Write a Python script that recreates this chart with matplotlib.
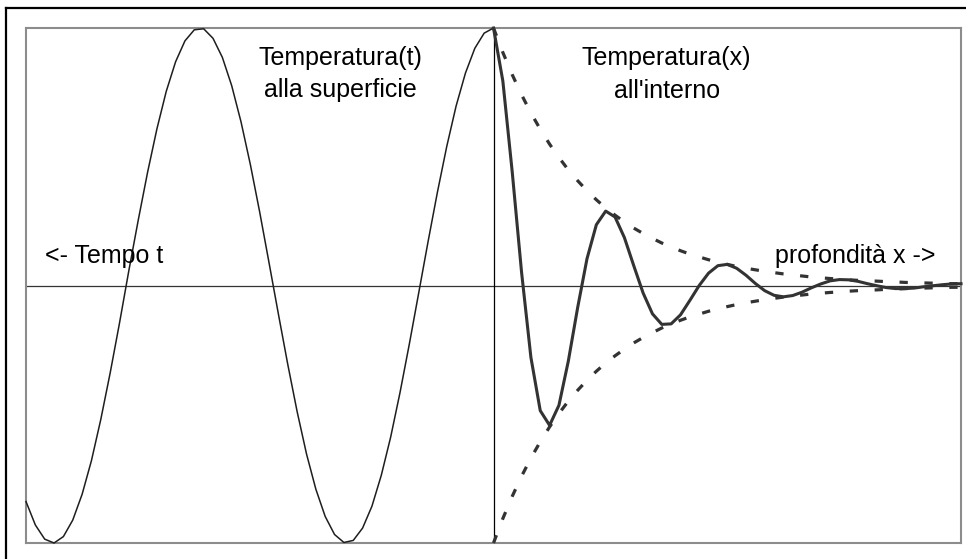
import matplotlib
matplotlib.use("Agg")
import matplotlib.pyplot as plt
from matplotlib.lines import Line2D

plt.rcParams['font.family'] = ['Liberation Sans', 'DejaVu Sans']

# Time axis (left half) and depth axis (right half), step 0.2
time_t = [round(-10 + 0.2 * i, 1) for i in range(51)]
depth_x = [round(0.2 * i, 1) for i in range(51)]

# Surface temperature over time, t = -10 ... 0
surface_temp = [
    -0.839, -0.930, -0.985, -1.000, -0.975, -0.911, -0.811, -0.680, -0.520, -0.340,
    -0.146, 0.058, 0.253, 0.439, 0.608, 0.754, 0.869, 0.950, 0.993, 0.997,
    0.960, 0.886, 0.776, 0.635, 0.469, 0.284, 0.087, -0.112, -0.307, -0.490,
    -0.654, -0.791, -0.897, -0.967, -0.998, -0.990, -0.942, -0.857, -0.737, -0.589,
    -0.416, -0.227, -0.029, 0.170, 0.362, 0.540, 0.697, 0.825, 0.921, 0.980,
    1.000,
]

# Temperature inside the body versus depth, x = 0 ... 10
inner_temp = [
    1.000, 0.794, 0.442, 0.052, -0.279, -0.486, -0.543, -0.465, -0.294, -0.086,
    0.104, 0.236, 0.289, 0.266, 0.186, 0.077, -0.029, -0.110, -0.151, -0.149,
    -0.114, -0.058, 0.000, 0.048, 0.077, 0.082, 0.067, 0.040, 0.008, -0.020,
    -0.038, -0.044, -0.039, -0.026, -0.009, 0.006, 0.018, 0.023, 0.022, 0.016,
    0.007, -0.001, -0.008, -0.012, -0.012, -0.010, -0.005, -0.001, 0.003, 0.006,
    0.007,
]

# Amplitude envelope versus depth
envelope = [
    1.000, 0.905, 0.819, 0.741, 0.670, 0.607, 0.549, 0.497, 0.449, 0.407,
    0.368, 0.333, 0.301, 0.273, 0.247, 0.223, 0.202, 0.183, 0.165, 0.150,
    0.135, 0.122, 0.111, 0.100, 0.091, 0.082, 0.074, 0.067, 0.061, 0.055,
    0.050, 0.045, 0.041, 0.037, 0.033, 0.030, 0.027, 0.025, 0.022, 0.020,
    0.018, 0.017, 0.015, 0.014, 0.012, 0.011, 0.010, 0.009, 0.008, 0.007,
    0.007,
]
envelope_low = [-v for v in envelope]

W, H = 966, 559
fig = plt.figure(figsize=(W / 100, H / 100), dpi=100)
fig.patch.set_facecolor('white')

# outer frame (left and top edges visible)
fig.add_artist(Line2D([6 / W, 6 / W], [1 - 7.5 / H, -0.01], transform=fig.transFigure,
                      color='black', lw=1.6, solid_capstyle='projecting'))
fig.add_artist(Line2D([6 / W, 1.01], [1 - 7.5 / H, 1 - 7.5 / H], transform=fig.transFigure,
                      color='black', lw=1.6, solid_capstyle='projecting'))

left, right, top, bottom = 26, 961, 28, 543
ax = fig.add_axes([left / W, 1 - bottom / H, (right - left) / W, (bottom - top) / H])
ax.set_xlim(-10, 10)
ax.set_ylim(-1, 1)
ax.set_xticks([])
ax.set_yticks([])
for s in ax.spines.values():
    s.set_color('#8c8c8c')
    s.set_linewidth(1.5)

# axes through the origin
ax.axhline(0, color='#333333', lw=0.9, zorder=1)
ax.axvline(0, color='black', lw=0.9, zorder=1)

ax.plot(time_t, surface_temp, color='#1e1e1e', lw=1.1, zorder=3, clip_on=False)
ax.plot(depth_x, inner_temp, color='#333333', lw=2.2, zorder=4, clip_on=False)
for env in (envelope, envelope_low):
    ln, = ax.plot(depth_x, env, color='#333333', lw=2.3, zorder=3,
                  dash_capstyle='butt', clip_on=False)
    ln.set_linestyle((0, (2.6, 5.2)))

fs = 18

# text positions given in pixels from the top-left corner
def put(x, y, s, ha='center'):
    fig.text(x / W, 1 - y / H, s, fontsize=fs, ha=ha, va='baseline', color='black')

put(340.5, 65, 'Temperatura(t)')
put(340.5, 97.5, 'alla superficie')
put(666.5, 65, 'Temperatura(x)')
put(667, 97.5, "all'interno")
put(45, 263, '<- Tempo t', ha='left')
put(775, 263, 'profondità x ->', ha='left')

fig.savefig('out.png', dpi=100)
